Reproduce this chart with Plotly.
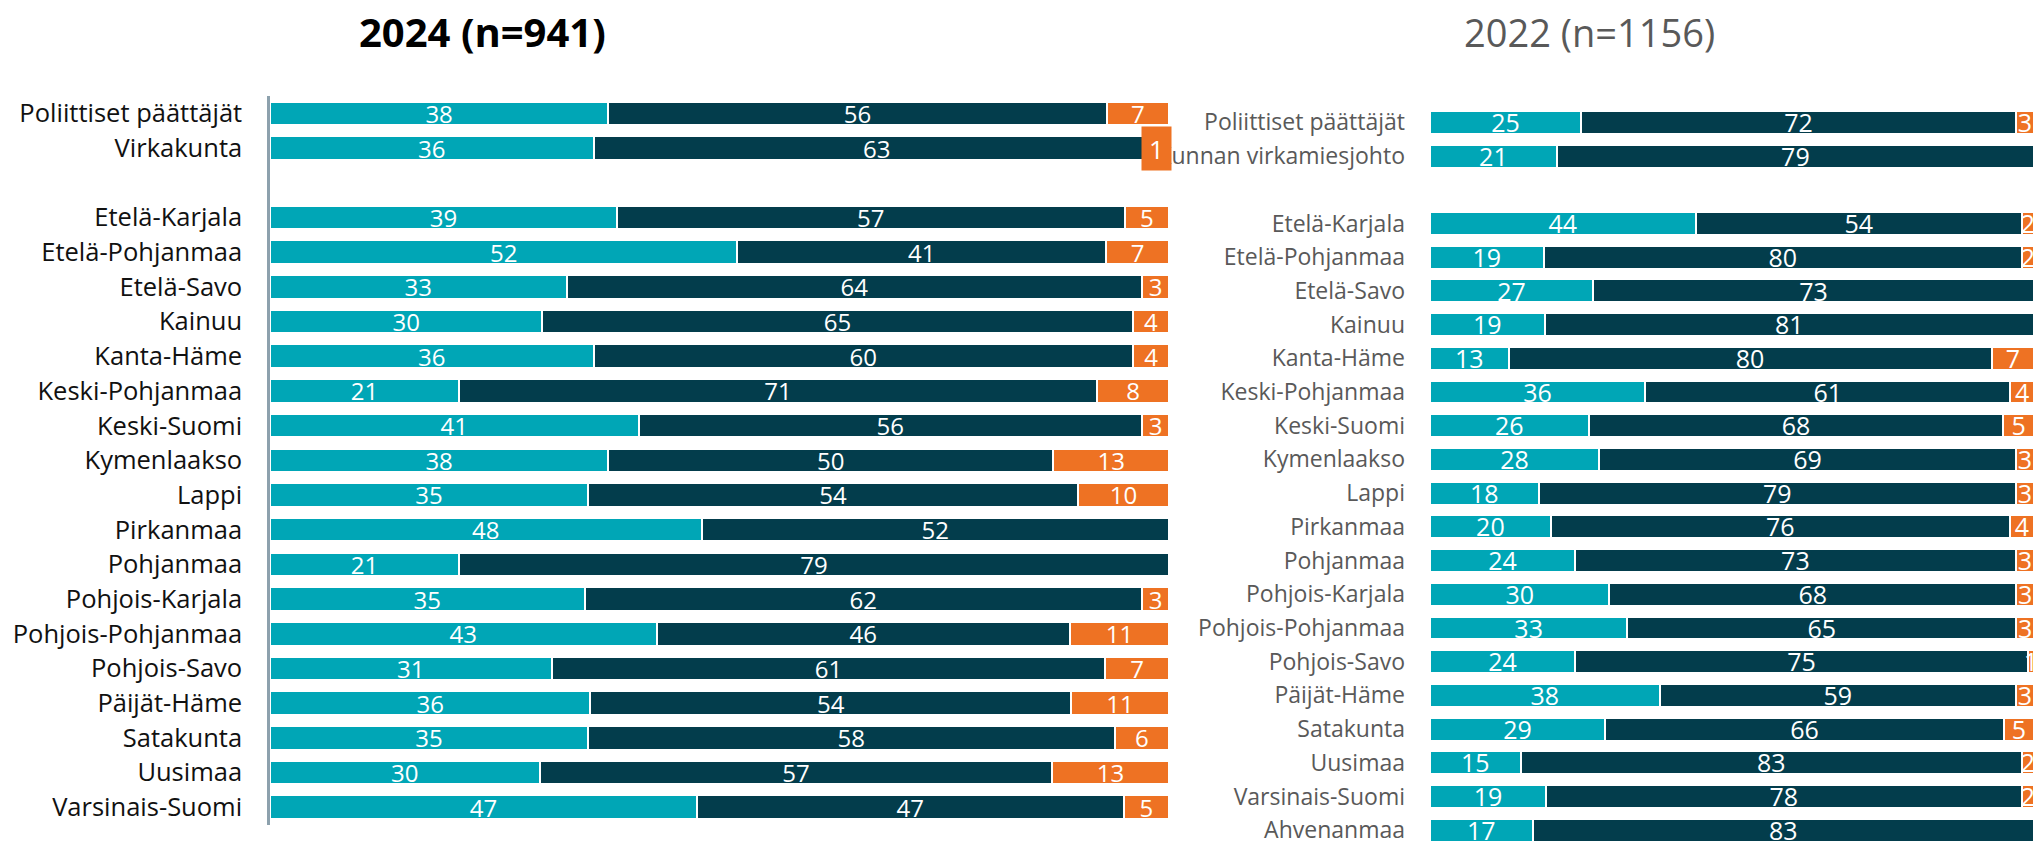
import plotly.graph_objects as go

# ---------------- data ----------------
TEAL = "#00A6B6"
DARK = "#033D4C"
ORANGE = "#EE7223"

title_2024 = "<b>2024 (n=941)</b>"
title_2022 = "2022 (n=1156)"

groups_2024 = ["Poliittiset päättäjät", "Virkakunta"]
teal_groups_2024 = [38, 36]
dark_groups_2024 = [56, 63]
orange_groups_2024 = [7, 1]

regions_2024 = ["Etelä-Karjala", "Etelä-Pohjanmaa", "Etelä-Savo", "Kainuu", "Kanta-Häme",
                "Keski-Pohjanmaa", "Keski-Suomi", "Kymenlaakso", "Lappi", "Pirkanmaa",
                "Pohjanmaa", "Pohjois-Karjala", "Pohjois-Pohjanmaa", "Pohjois-Savo",
                "Päijät-Häme", "Satakunta", "Uusimaa", "Varsinais-Suomi"]
teal_regions_2024 = [39, 52, 33, 30, 36, 21, 41, 38, 35, 48, 21, 35, 43, 31, 36, 35, 30, 47]
dark_regions_2024 = [57, 41, 64, 65, 60, 71, 56, 50, 54, 52, 79, 62, 46, 61, 54, 58, 57, 47]
orange_regions_2024 = [5, 7, 3, 4, 4, 8, 3, 13, 10, 0, 0, 3, 11, 7, 11, 6, 13, 5]

groups_2022 = ["Poliittiset päättäjät", "Kunnan virkamiesjohto"]
teal_groups_2022 = [25, 21]
dark_groups_2022 = [72, 79]
orange_groups_2022 = [3, 0]

regions_2022 = ["Etelä-Karjala", "Etelä-Pohjanmaa", "Etelä-Savo", "Kainuu", "Kanta-Häme",
                "Keski-Pohjanmaa", "Keski-Suomi", "Kymenlaakso", "Lappi", "Pirkanmaa",
                "Pohjanmaa", "Pohjois-Karjala", "Pohjois-Pohjanmaa", "Pohjois-Savo",
                "Päijät-Häme", "Satakunta", "Uusimaa", "Varsinais-Suomi", "Ahvenanmaa"]
teal_regions_2022 = [44, 19, 27, 19, 13, 36, 26, 28, 18, 20, 24, 30, 33, 24, 38, 29, 15, 19, 17]
dark_regions_2022 = [54, 80, 73, 81, 80, 61, 68, 69, 79, 76, 73, 68, 65, 75, 59, 66, 83, 78, 83]
orange_regions_2022 = [2, 2, 0, 0, 7, 4, 5, 3, 3, 4, 3, 3, 3, 1, 3, 5, 2, 2, 0]

boxed_row_2024 = "Virkakunta"   # its orange label is drawn in a box

# ---------------- layout constants ----------------
W, H = 2034, 845
FONT = "Open Sans"


def build(groups, regions, teal, dark, orange):
    names = groups + regions
    pos = list(range(len(groups))) + [len(groups) + 1 + i for i in range(len(regions))]
    series = [teal, dark, orange]
    totals = [sum(s[i] for s in series) for i in range(len(names))]
    widths = [[s[i] / totals[i] * 100 for i in range(len(names))] for s in series]
    return names, pos, series, widths


def add_panel(fig, names, pos, series, widths, xa, ya, label_size, boxed=None):
    colors = [TEAL, DARK, ORANGE]
    cum = [0.0] * len(names)
    for k in range(3):
        fig.add_trace(go.Bar(
            orientation="h", x=widths[k], y=pos, base=cum[:],
            marker=dict(color=colors[k], line=dict(color="white", width=2)),
            width=0.68, xaxis=xa, yaxis=ya, showlegend=False, hoverinfo="skip"))
        mids, ys, txt = [], [], []
        for i in range(len(names)):
            v = series[k][i]
            m = cum[i] + widths[k][i] / 2
            if v > 0:
                if boxed is not None and names[i] == boxed and k == 2:
                    fig.add_annotation(
                        x=m, y=pos[i], xref=xa, yref=ya, text=str(v), showarrow=False,
                        bgcolor=ORANGE, width=27, height=41, xshift=-8,
                        font=dict(family=FONT, size=label_size + 2, color="white"))
                else:
                    mids.append(m)
                    ys.append(pos[i] + 0.1)
                    txt.append(str(v))
            cum[i] += widths[k][i]
        fig.add_trace(go.Scatter(
            x=mids, y=ys, text=txt, mode="text", textposition="middle center",
            textfont=dict(family=FONT, size=label_size, color="white"),
            xaxis=xa, yaxis=ya, showlegend=False, hoverinfo="skip", cliponaxis=False))


fig = go.Figure()

n24, p24, s24, w24 = build(groups_2024, regions_2024, teal_groups_2024 + teal_regions_2024,
                           dark_groups_2024 + dark_regions_2024,
                           orange_groups_2024 + orange_regions_2024)
n22, p22, s22, w22 = build(groups_2022, regions_2022, teal_groups_2022 + teal_regions_2022,
                           dark_groups_2022 + dark_regions_2022,
                           orange_groups_2022 + orange_regions_2022)

add_panel(fig, n24, p24, s24, w24, "x", "y", 24, boxed=boxed_row_2024)
add_panel(fig, n22, p22, s22, w22, "x2", "y2", 25)

hidden_x = dict(range=[0, 100], showgrid=False, zeroline=False, showticklabels=False,
                showline=False, fixedrange=True)

fig.update_layout(
    width=W, height=H,
    margin=dict(l=0, r=0, t=0, b=0),
    paper_bgcolor="white", plot_bgcolor="rgba(0,0,0,0)",
    barmode="stack",
    font=dict(family=FONT),
    xaxis=dict(domain=[270 / W, 1169 / W], anchor="y", **hidden_x),
    yaxis=dict(domain=[(H - 827.5) / H, (H - 95.5) / H], anchor="x",
               range=[p24[-1] + 0.5, -0.5], tickvals=p24, ticktext=n24,
               showgrid=False, zeroline=False, showline=True, linecolor="#8DA1AD",
               linewidth=2.5, ticks="", ticklabelstandoff=20, ticklabeloverflow="allow",
               tickfont=dict(family=FONT, size=25.5, color="#111111")),
    xaxis2=dict(domain=[1430 / W, 1.0], anchor="y2", **hidden_x),
    yaxis2=dict(domain=[0, (H - 105) / H], anchor="x2",
                range=[p22[-1] + 0.35, -0.5], tickvals=p22, ticktext=n22,
                showgrid=False, zeroline=False, showline=False, ticks="",
                ticklabelstandoff=24, ticklabeloverflow="allow",
                tickfont=dict(family=FONT, size=23, color="#595959")),
    annotations=list(fig.layout.annotations) + [
        dict(text=title_2024, x=482 / W, y=1 - 31 / H, xref="paper", yref="paper",
             showarrow=False, xanchor="center", yanchor="middle",
             font=dict(family=FONT, size=40, color="#000000")),
        dict(text=title_2022, x=1589 / W, y=1 - 31 / H, xref="paper", yref="paper",
             showarrow=False, xanchor="center", yanchor="middle",
             font=dict(family=FONT, size=38, color="#595959")),
    ],
)

fig.write_html(
    "out.html",
    config={"displayModeBar": False},
    post_script="document.body.style.margin='0';document.body.style.overflow='hidden';",
)
